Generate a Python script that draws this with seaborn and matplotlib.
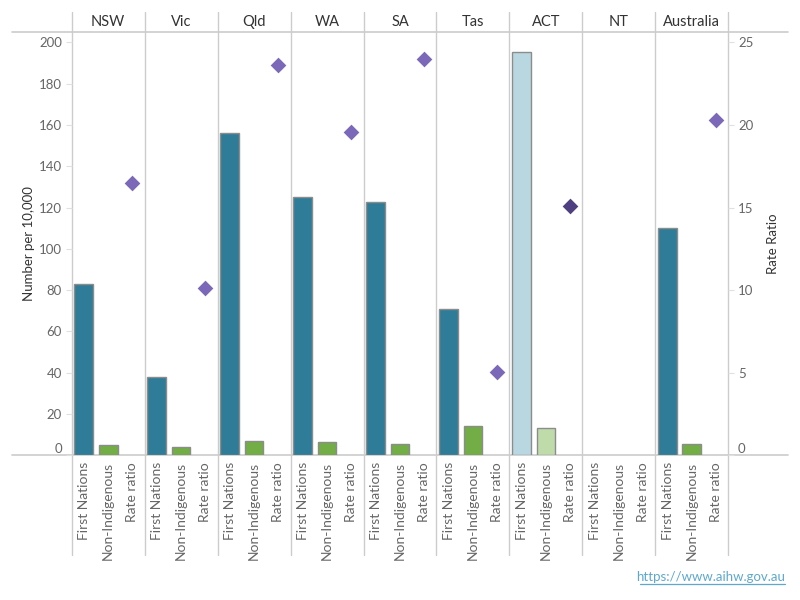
import pandas as pd
import matplotlib.pyplot as plt
import matplotlib.transforms as mtransforms
from matplotlib.lines import Line2D
import seaborn as sns

STATES = ["NSW", "Vic", "Qld", "WA", "SA", "Tas", "ACT", "NT", "Australia"]
MEASURES = ["First Nations", "Non-Indigenous", "Rate ratio"]
FIRST_NATIONS = [82.8, 38.1, 155.9, 125.2, 122.5, 70.7, 195.2, None, 109.9]
NON_INDIGENOUS = [4.8, 3.9, 6.8, 6.3, 5.3, 14.0, 13.1, None, 5.3]
RATE_RATIO = [16.5, 10.1, 23.6, 19.6, 24.0, 5.05, 15.1, None, 20.3]
HIGHLIGHT = "ACT"
LEFT_TICKS = [0, 20, 40, 60, 80, 100, 120, 140, 160, 180, 200]
RIGHT_TICKS = [0, 5, 10, 15, 20, 25]

PALETTE = {
    "First Nations": "#2E7C98",
    "Non-Indigenous": "#72AD46",
    "Rate ratio": "#7B68B8",
    "First Nations_hl": "#B8D7E0",
    "Non-Indigenous_hl": "#BEDBA9",
    "Rate ratio_hl": "#4E3F80",
}
GRID = "#cccccc"
TICK_TXT = "#666666"

sns.set_style("white")
plt.rcParams["font.family"] = ["Lato", "DejaVu Sans"]


def build_frame():
    rows = []
    series = dict(zip(MEASURES, [FIRST_NATIONS, NON_INDIGENOUS, RATE_RATIO]))
    for i, st in enumerate(STATES):
        for m in MEASURES:
            tone = m + ("_hl" if st == HIGHLIGHT else "")
            rows.append({"state": st, "measure": m, "slot": f"{st}|{m}",
                         "value": series[m][i], "tone": tone})
    return pd.DataFrame(rows)


def main():
    df = build_frame()
    order = list(df["slot"])
    bars = df[df["measure"] != "Rate ratio"].dropna(subset=["value"])
    rr = df[df["measure"] == "Rate ratio"].dropna(subset=["value"])

    fig = plt.figure(figsize=(8, 6), dpi=100)
    # plot area in pixels: x 71.7..728.3, y 32.3..455.3
    ax = fig.add_axes([71.7 / 800, 1 - 455.3 / 600, 656.6 / 800, 423 / 600])

    sns.barplot(data=bars, x="slot", y="value", hue="tone", palette=PALETTE,
                order=order, dodge=False, width=0.77, saturation=1,
                edgecolor="#8c8c8c", linewidth=1, legend=False, ax=ax)

    ax2 = ax.twinx()
    sns.stripplot(data=rr, x="slot", y="value", hue="tone", palette=PALETTE,
                  order=order, jitter=False, marker="D", size=8, linewidth=0,
                  legend=False, ax=ax2, zorder=5)

    top_left = 423 / 2.065
    ax.set_xlim(-0.5, len(order) - 0.5)
    ax.set_ylim(0, top_left)
    ax2.set_ylim(0, top_left / 8)

    for a in (ax, ax2):
        for sp in a.spines.values():
            sp.set_visible(False)

    ax.set_yticks(LEFT_TICKS)
    ax.set_yticklabels([str(v) for v in LEFT_TICKS])
    ax.tick_params(axis="y", length=4, width=0.8, color="#e0e0e0", pad=3,
                   labelsize=9.5, labelcolor=TICK_TXT, left=True)
    ax2.set_yticks(RIGHT_TICKS)
    ax2.set_yticklabels([str(v) for v in RIGHT_TICKS])
    ax2.tick_params(axis="y", length=4, width=0.8, color="#e0e0e0", pad=3,
                    labelsize=9.5, labelcolor=TICK_TXT, right=True)
    ax.get_yticklabels()[0].set_verticalalignment("bottom")
    ax2.get_yticklabels()[0].set_verticalalignment("bottom")

    ax.set_xticks(range(len(order)))
    ax.set_xticklabels([m for _ in STATES for m in MEASURES], rotation=90,
                       va="top", ha="center")
    ax.tick_params(axis="x", length=0, pad=5, labelsize=10, labelcolor=TICK_TXT)
    ax.set_xlabel("")
    ax2.set_xlabel("")

    ax.set_ylabel("Number per 10,000", fontsize=9.5, color="#333333")
    ax.yaxis.set_label_coords(-0.056, 0.5)
    ax2.set_ylabel("Rate Ratio", fontsize=9.5, color="#333333", rotation=90)
    ax2.yaxis.set_label_coords(1.0589, 0.5)

    blend = mtransforms.blended_transform_factory(ax.transData, ax.transAxes)
    # panel dividers
    for k in range(len(STATES) + 1):
        ax.add_line(Line2D([3 * k - 0.5] * 2, [-0.236, 1.048], transform=blend,
                           color=GRID, lw=1, clip_on=False, zorder=0))
    # header and baseline rules
    for yy in (0, 1):
        ax.add_line(Line2D([-0.0909, 1.091], [yy, yy], transform=ax.transAxes,
                           color=GRID, lw=1.2, clip_on=False, zorder=0))
    for i, st in enumerate(STATES):
        ax.text(3 * i + 1, 1.024, st, transform=blend, ha="center",
                va="center", fontsize=10.5, color="#333333")

    fig.text(785 / 800, 1 - 577 / 600, "https://www.aihw.gov.au", ha="right",
             va="center", fontsize=9.5, color="#5FA8CC")
    fig.add_artist(Line2D([640 / 800, 785 / 800], [1 - 584 / 600] * 2,
                          color="#5FA8CC", lw=0.9))

    fig.savefig("out.png", dpi=100)
    plt.close(fig)


if __name__ == "__main__":
    main()
